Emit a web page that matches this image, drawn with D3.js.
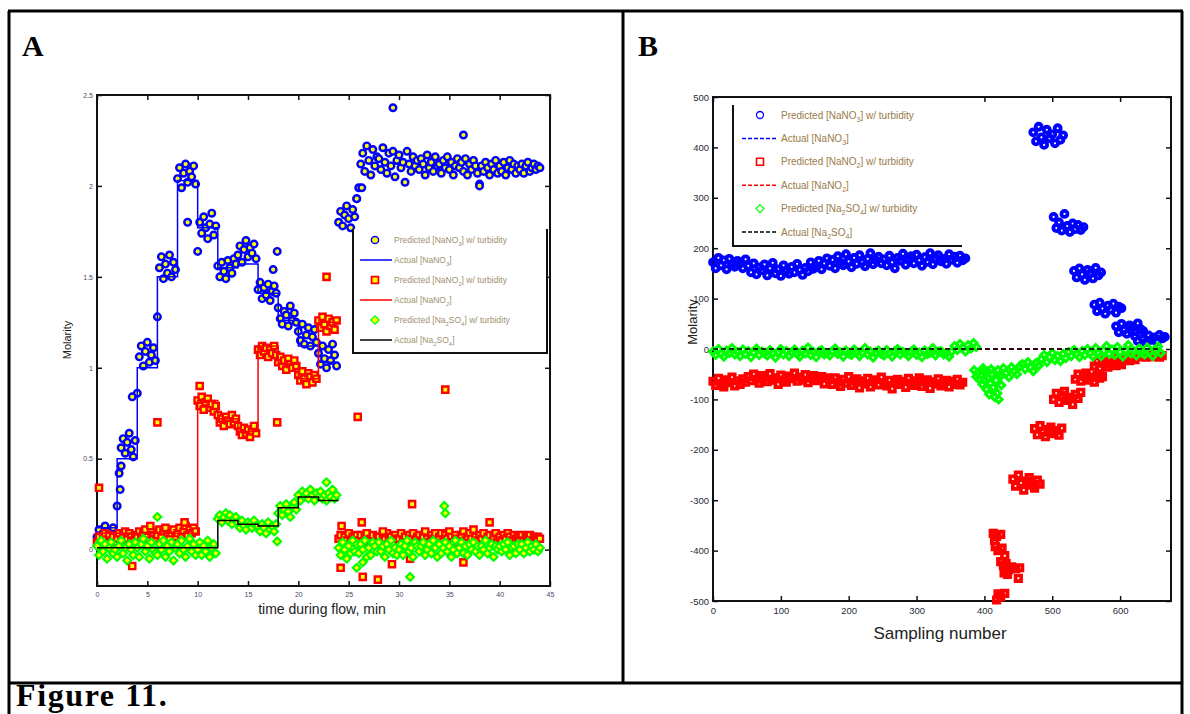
<!DOCTYPE html>
<html>
<head>
<meta charset="utf-8">
<script src="https://cdn.jsdelivr.net/npm/d3@7"></script>
<style>
  body { margin: 0; background: #fff; }
  svg { display: block; }
</style>
</head>
<body>
<svg id="svg"></svg>
<script>
// ---------- panel A data (time in min, molarity) ----------
// predicted values are sampled every 0.2 min from t = 0
const aStep = 0.2;

const aNitratePred = [
    0.07, 0.11, 0.04, 0.09, 0.13, 0.06, 0.10, 0.08, 0.12, 0.05,
    0.24, 0.42, 0.56, 0.61, 0.53, 0.59, 0.64, 0.55, 0.51, 0.60,
    0.86, 1.06, 1.12, 1.01, 1.09, 1.14, 1.03, 1.07, 1.11, 1.04,
    1.28, 1.55, 1.61, 1.49, 1.57, 1.52, 1.62, 1.50, 1.58, 1.54,
    2.04, 2.10, 1.99, 2.07, 2.12, 2.02, 2.08, 2.05, 2.11, 2.01,
    1.64, 1.80, 1.74, 1.83, 1.77, 1.71, 1.79, 1.85, 1.73, 1.78,
    1.56, 1.50, 1.58, 1.53, 1.49, 1.59, 1.55, 1.52, 1.60, 1.57,
    1.62, 1.67, 1.58, 1.65, 1.70, 1.61, 1.66, 1.63, 1.68, 1.60,
    1.43, 1.47, 1.38, 1.44, 1.40, 1.46, 1.37, 1.42, 1.45, 1.41,
    1.33, 1.27, 1.24, 1.31, 1.29, 1.23, 1.34, 1.26, 1.30, 1.25,
    1.20, 1.15, 1.24, 1.13, 1.18, 1.22, 1.12, 1.17, 1.21, 1.14,
    1.08, 1.02, 1.12, 1.05, 1.00, 1.10, 1.04, 1.13, 1.07, 1.01,
    1.80, 1.86, 1.78, 1.84, 1.89, 1.82, 1.77, 1.87, 1.83, 1.93,
    1.99, 2.12, 2.18, 2.08, 2.22, 2.14, 2.06, 2.20, 2.11, 2.16,
    2.15, 2.09, 2.21, 2.13, 2.07, 2.18, 2.11, 2.19, 2.05, 2.14,
    2.17, 2.10, 2.13, 2.02, 2.19, 2.12, 2.08, 2.16, 2.11, 2.14,
    2.09, 2.15, 2.12, 2.06, 2.17, 2.10, 2.13, 2.08, 2.16, 2.11,
    2.12, 2.07, 2.14, 2.10, 2.16, 2.09, 2.13, 2.06, 2.11, 2.15,
    2.10, 2.13, 2.08, 2.15, 2.06, 2.12, 2.09, 2.14, 2.11, 2.07,
    2.01, 2.11, 2.08, 2.13, 2.10, 2.06, 2.12, 2.09, 2.14, 2.07,
    2.11, 2.08, 2.13, 2.06, 2.10, 2.14, 2.09, 2.12, 2.07, 2.11,
    2.09, 2.12, 2.07, 2.11, 2.13, 2.08, 2.10, 2.12, 2.09, 2.11,
    2.10
];
const aNitrateOutliers = [[2.3, 0.33], [2.4, 0.46], [3.5, 0.84], [9.0, 1.80], [17.5, 1.54], [17.9, 1.64],
    [25.8, 1.93], [26.3, 1.99], [29.4, 2.43], [36.4, 2.28], [38.0, 2.00]];

const aNitritePred = [
    0.04, 0.07, 0.02, 0.06, 0.09, 0.03, 0.08, 0.05, 0.07, 0.04,
    0.06, 0.09, 0.05, 0.08, 0.10, 0.06, 0.09, 0.07, 0.05, 0.08,
    0.07, 0.10, 0.06, 0.09, 0.11, 0.07, 0.05, 0.10, 0.08, 0.06,
    0.08, 0.11, 0.07, 0.10, 0.12, 0.08, 0.06, 0.09, 0.11, 0.07,
    0.09, 0.12, 0.07, 0.10, 0.13, 0.08, 0.11, 0.09, 0.12, 0.10,
    0.82, 0.79, 0.84, 0.77, 0.81, 0.83, 0.78, 0.80, 0.76, 0.79,
    0.74, 0.70, 0.72, 0.68, 0.73, 0.71, 0.69, 0.74, 0.70, 0.72,
    0.68, 0.65, 0.63, 0.67, 0.64, 0.66, 0.62, 0.65, 0.68, 0.64,
    1.10, 1.07, 1.12, 1.09, 1.11, 1.06, 1.10, 1.08, 1.12, 1.07,
    1.03, 1.06, 1.01, 1.04, 0.99, 1.05, 1.02, 1.00, 1.04, 1.01,
    0.96, 0.93, 0.98, 0.94, 0.91, 0.97, 0.95, 0.92, 0.96, 0.94,
    1.26, 1.22, 1.28, 1.24, 1.20, 1.27, 1.23, 1.25, 1.21, 1.26,
    0.06, 0.08, 0.03, 0.07, 0.05, 0.09, 0.04, 0.07, 0.06, 0.08,
    0.05, 0.08, 0.04, 0.07, 0.09, 0.05, 0.06, 0.08, 0.03, 0.07,
    0.07, 0.04, 0.08, 0.06, 0.09, 0.05, 0.07, 0.03, 0.08, 0.06,
    0.06, 0.09, 0.05, 0.07, 0.04, 0.08, 0.06, 0.09, 0.05, 0.07,
    0.08, 0.05, 0.07, 0.10, 0.06, 0.04, 0.08, 0.06, 0.09, 0.05,
    0.07, 0.09, 0.05, 0.08, 0.06, 0.10, 0.07, 0.04, 0.08, 0.06,
    0.06, 0.08, 0.10, 0.05, 0.07, 0.09, 0.06, 0.11, 0.07, 0.05,
    0.08, 0.06, 0.09, 0.05, 0.07, 0.08, 0.04, 0.07, 0.09, 0.06,
    0.07, 0.05, 0.08, 0.06, 0.09, 0.07, 0.05, 0.08, 0.06, 0.07,
    0.06, 0.08, 0.05, 0.07, 0.06, 0.08, 0.05, 0.07, 0.06, 0.07,
    0.06
];
const aNitriteOutliers = [[0.2, 0.34], [3.5, -0.09], [5.3, 0.13], [6.0, 0.70], [8.7, 0.15], [10.2, 0.90],
    [17.9, 0.70], [22.8, 1.50], [24.2, -0.10], [24.3, 0.13], [25.9, 0.73], [26.3, 0.15], [26.4, -0.15],
    [27.9, -0.165], [28.4, 0.10], [29.3, -0.08], [31.1, -0.05], [31.3, 0.25], [34.6, 0.88], [36.4, -0.07],
    [39.0, 0.15]];

const aSulfatePred = [
    0.02, -0.03, 0.05, -0.01, 0.03, -0.05, 0.01, 0.04, -0.02, 0.00,
    -0.04, 0.02, 0.05, -0.02, 0.01, -0.06, 0.03, 0.00, -0.03, 0.04,
    0.01, -0.04, 0.03, 0.06, -0.01, 0.02, -0.05, 0.04, 0.00, -0.02,
    -0.03, 0.03, 0.00, 0.05, -0.04, 0.02, -0.01, 0.04, -0.06, 0.01,
    0.03, -0.02, 0.05, 0.00, -0.04, 0.02, 0.06, -0.01, 0.03, -0.03,
    0.00, 0.04, -0.03, 0.02, -0.01, 0.05, -0.04, 0.01, 0.03, -0.02,
    0.17, 0.19, 0.15, 0.18, 0.20, 0.16, 0.19, 0.14, 0.17, 0.18,
    0.15, 0.12, 0.16, 0.13, 0.11, 0.15, 0.14, 0.12, 0.16, 0.13,
    0.13, 0.10, 0.14, 0.12, 0.09, 0.15, 0.11, 0.13, 0.10, 0.14,
    0.20, 0.24, 0.19, 0.22, 0.25, 0.21, 0.18, 0.23, 0.26, 0.22,
    0.30, 0.27, 0.32, 0.29, 0.31, 0.28, 0.33, 0.30, 0.27, 0.31,
    0.29, 0.32, 0.28, 0.30, 0.27, 0.31, 0.29, 0.33, 0.28, 0.30,
    0.01, -0.03, 0.04, 0.00, -0.05, 0.02, -0.02, 0.05, -0.01, 0.03,
    -0.02, 0.03, 0.00, 0.05, -0.04, 0.01, -0.03, 0.04, 0.02, -0.01,
    0.04, -0.01, 0.02, -0.04, 0.03, 0.00, 0.05, -0.02, 0.01, -0.03,
    0.00, 0.03, -0.03, 0.02, 0.05, -0.01, 0.01, -0.04, 0.04, 0.02,
    -0.01, 0.02, 0.04, -0.03, 0.00, 0.03, -0.02, 0.05, 0.01, -0.04,
    0.03, -0.02, 0.01, 0.04, -0.01, 0.02, -0.04, 0.00, 0.05, -0.02,
    0.01, 0.04, -0.02, 0.02, -0.03, 0.03, 0.00, 0.04, -0.01, 0.02,
    -0.03, 0.02, 0.00, 0.05, -0.02, 0.01, 0.03, -0.04, 0.02, 0.00,
    0.02, -0.01, 0.03, 0.00, 0.04, -0.03, 0.01, 0.02, -0.02, 0.03,
    0.00, 0.03, -0.02, 0.01, 0.04, -0.01, 0.02, 0.00, 0.03, -0.01,
    0.01
];
const aSulfateOutliers = [[6.0, 0.18], [17.9, 0.045], [22.8, 0.37], [25.8, -0.10], [26.4, -0.07],
    [31.1, -0.15], [34.5, 0.24], [34.6, 0.20]];

// actual (reference) concentrations, step changes every 2 min
const aNitrateStepTimes = [0, 2, 4, 6, 8, 10, 12, 14, 16, 18, 20, 22, 24];
const aNitrateSteps = [0.12, 0.50, 1.00, 1.50, 2.03, 1.77, 1.55, 1.57, 1.41, 1.26, 1.12, 1.03, 1.03];
const aNitriteStepTimes = [0, 10, 12, 14, 16, 18, 20, 22, 24];
const aNitriteSteps = [0.09, 0.82, 0.72, 0.65, 1.12, 1.02, 0.94, 1.25, 1.25];
const aSulfateStepTimes = [0, 12, 14, 16, 18, 20, 22, 24];
const aSulfateSteps = [0.01, 0.16, 0.14, 0.13, 0.23, 0.29, 0.27, 0.27];

const aXTicks = [0, 5, 10, 15, 20, 25, 30, 35, 40, 45];
const aYTicks = [0, 0.5, 1, 1.5, 2, 2.5];

// ---------- panel B data (sampling number, molarity) ----------
// each cluster starts at a sampling number, then one value every 4 samples
const bStep = 4;

const bNitrateStarts = [0, 472, 502, 532, 562, 594, 622];
const bNitratePred = [
    [172, 160, 181, 166, 176, 158, 179, 168, 163, 175, 170, 160, 178,
     165, 152, 170, 148, 162, 156, 168, 146, 160, 171, 150, 158, 145, 166, 155, 149, 163, 152, 169, 157, 147, 161, 154, 172, 159,
     163, 175, 158, 170, 180, 165, 177, 160, 184, 171, 166, 188, 174, 162, 181, 169, 186, 172, 164, 179, 190, 168, 176, 183, 170,
     178, 166, 185, 172, 160, 181, 175, 189, 167, 179, 184, 170, 187, 176, 165, 182, 173, 190, 168, 180, 186, 174, 179, 169, 188,
     177, 183, 171, 185, 176, 180],
    [430, 412, 441, 420, 405, 435, 418, 426, 408, 438, 415, 424],
    [262, 240, 251, 235, 268, 244, 232, 249, 238, 246, 236, 242],
    [155, 142, 160, 148, 137, 157, 150, 140, 161, 146, 152],
    [88, 75, 92, 80, 70, 86, 78, 90, 72, 84, 81],
    [45, 33, 50, 38, 30, 47, 42, 35, 51, 40, 36],
    [25, 16, 30, 20, 13, 27, 18, 23, 15, 28, 21, 24]
];

const bNitriteStarts = [0, 442, 474, 502, 534, 562, 594, 630];
const bNitritePred = [
    [-64, -72, -58, -69, -75, -61, -67, -56, -73, -63, -70, -59, -66,
     -55, -63, -50, -60, -68, -53, -58, -65, -49, -62, -57, -70, -52, -61, -66, -54, -59, -48, -64, -56, -62, -51, -67, -58,
     -53, -63, -60, -55, -69, -57,
     -61, -70, -57, -66, -74, -60, -68, -55, -72, -64, -59, -77, -63, -69, -58, -75, -65, -61, -71, -56, -67, -73, -62, -79,
     -66, -60, -70, -64, -76, -58, -68, -72, -63, -57, -74, -66, -61, -78, -65, -69, -59, -73, -67, -62, -75, -64, -70, -60,
     -71, -66],
    [-258, -272, -250, -266, -280, -262, -255, -270, -276, -260, -268],
    [-158, -170, -152, -165, -174, -160, -155, -168, -162, -171, -157],
    [-100, -88, -106, -92, -84, -102, -96, -110, -90, -98, -86],
    [-60, -50, -64, -54, -48, -62, -56, -66, -52, -58, -55],
    [-34, -25, -38, -28, -22, -36, -30, -27, -33, -24, -31],
    [-22, -18, -24, -20, -17, -23, -19, -21],
    [-15, -12, -16, -13, -15, -12, -14, -16, -13]
];
const bNitriteScatter = [[413, -366], [415, -380], [418, -372], [424, -368], [416, -392], [420, -400], [426, -395],
    [430, -410], [424, -422], [428, -430], [432, -426], [436, -438], [429, -444], [440, -432], [446, -436],
    [452, -434], [434, -447], [450, -455], [420, -486], [424, -492], [430, -485], [418, -498]];

const bSulfateStarts = [0, 356, 420];
const bSulfatePred = [
    [-5, -12, 0, -9, -15, -3, -8, 2, -11, -6, -14, -1, -10, -4, -16, -7, 1, -12, -5, -9,
     -13, -2, -8, -17, -6, 0, -11, -4, -14, -7, -1, -10, -15, -3, -9, 3, -12, -6, -16, -5,
     -2, -11, -8, -13, -4, 1, -10, -7, -15, -3, -9, -12, -1, -6, -14, -8, 2, -11, -5, -17,
     -7, -3, -10, -13, -2, -8, -15, -4, 0, -11, -6, -9, -14, -5, -1, -12, -7, -16, -3, -10,
     -8, 2, -13, -6, -4, -11, -9, -15, -5],
    [6, -2, 10, 3, -5, 8, 1, 12, 4],
    [-42, -52, -38, -48, -56, -36, -44, -50, -34,
     -30, -40, -26, -36, -44, -28, -33,
     -20, -12, -26, -16, -8, -22, -14, -24, -10, -18,
     -6, -14, -2, -10, -16, -4, -12, 0, -8, -15,
     2, -8, -14, -3, 6, -10, -1, -12, 4, -6, -15, -2, 8, -9, -4, -13, 1, -7, -11, 3, -5, -14, -1, 5, -8]
];
const bSulfateScatter = [[385, -42], [388, -55], [390, -48], [392, -60], [395, -52], [397, -70], [398, -38],
    [399, -45], [401, -63], [403, -80], [404, -44], [405, -58], [407, -90], [409, -68], [410, -40], [411, -50],
    [413, -76], [415, -95], [417, -62], [419, -88], [421, -100], [423, -55], [425, -72]];

// actual concentrations as plotted (all on the zero line)
const bActualSamples = [0, 660];
const bNitrateActual = [0, 0];
const bNitriteActual = [0, 0];
const bSulfateActual = [0, 0];

const bXTicks = [0, 100, 200, 300, 400, 500, 600];
const bYTicks = [-500, -400, -300, -200, -100, 0, 100, 200, 300, 400, 500];

// legend texts, odd parts are subscripts
const legendLabels = [
    ["Predicted [NaNO", "3", "] w/ turbidity"],
    ["Actual [NaNO", "3", "]"],
    ["Predicted [NaNO", "2", "] w/ turbidity"],
    ["Actual [NaNO", "2", "]"],
    ["Predicted [Na", "2", "SO", "4", "] w/ turbidity"],
    ["Actual [Na", "2", "SO", "4", "]"]
];

const width = 1190;
const height = 714;
const BLUE = "#0000ff", RED = "#ff0000", GREEN = "#00ff00", YELLOW = "#ffff00";
const sansFont = "'Liberation Sans', Arial, sans-serif";
const serifFont = "'Liberation Serif', 'Times New Roman', serif";

let svg = d3.select("#svg");

function diamondPath(s) {
    return "M0," + (-s) + "L" + s + ",0L0," + s + "L" + (-s) + ",0Z";
}

function drawMarkers(g, pts, x, y, kind, opts) {
    let sel = g.append("g").selectAll("path").data(pts).join("path")
        .attr("transform", d => "translate(" + x(d[0]) + "," + y(d[1]) + ")")
        .attr("fill", opts.fill)
        .attr("stroke", opts.stroke)
        .attr("stroke-width", opts.sw);
    if (kind == "circle") sel.attr("d", d3.symbol(d3.symbolCircle, Math.PI * opts.size * opts.size)());
    if (kind == "square") sel.attr("d", d3.symbol(d3.symbolSquare, 4 * opts.size * opts.size)());
    if (kind == "diamond") sel.attr("d", diamondPath(opts.size * 1.15));
}

function drawStepLine(g, times, vals, x, y, color, dash) {
    let pts = times.map((t, i) => [t, vals[i]]);
    g.append("path")
        .datum(pts)
        .attr("fill", "none")
        .attr("stroke", color)
        .attr("stroke-width", 1.5)
        .attr("stroke-dasharray", dash || null)
        .attr("d", d3.line().x(d => x(d[0])).y(d => y(d[1])).curve(d3.curveStepAfter));
}

function addLabel(sel, parts, size) {
    parts.forEach((p, i) => {
        let t = sel.append("tspan").text(p);
        if (i % 2 == 1) {
            t.attr("font-size", size * 0.7).attr("dy", size * 0.3);
        } else if (i > 0) {
            t.attr("dy", -size * 0.3);
        }
    });
}

function drawFrame(g, x, y, xTicks, yTicks, tickFont, tickColor) {
    let x0 = x.range()[0], x1 = x.range()[1], y0 = y.range()[0], y1 = y.range()[1];

    let bottom = g.append("g").attr("transform", `translate(0,${y0})`)
        .call(d3.axisBottom(x).tickValues(xTicks).tickSizeInner(-5).tickSizeOuter(0).tickPadding(6).tickFormat(d => d));
    let left = g.append("g").attr("transform", `translate(${x0},0)`)
        .call(d3.axisLeft(y).tickValues(yTicks).tickSizeInner(-5).tickSizeOuter(0).tickPadding(4).tickFormat(d => d));
    g.append("g").attr("transform", `translate(0,${y1})`)
        .call(d3.axisTop(x).tickValues(xTicks).tickSizeInner(-5).tickSizeOuter(0).tickFormat(""));
    g.append("g").attr("transform", `translate(${x1},0)`)
        .call(d3.axisRight(y).tickValues(yTicks).tickSizeInner(-5).tickSizeOuter(0).tickFormat(""));

    g.selectAll(".domain").remove();
    g.selectAll(".tick line").attr("stroke", "#111").attr("stroke-width", 1.5);
    [bottom, left].forEach(a => a.selectAll("text")
        .attr("font-family", sansFont)
        .attr("font-size", tickFont)
        .attr("fill", tickColor));

    g.append("rect")
        .attr("x", x0).attr("y", y1)
        .attr("width", x1 - x0).attr("height", y0 - y1)
        .attr("fill", "none").attr("stroke", "#111").attr("stroke-width", 2);
}

function drawPanelA() {
    let x = d3.scaleLinear().domain([0, 45]).range([97, 550]);
    let y = d3.scaleLinear().domain([-0.2, 2.5]).range([586, 95]);
    let g = svg.append("g").attr("id", "panel-a");

    let axes = g.append("g");
    drawFrame(axes, x, y, aXTicks, aYTicks, 7, "#4a4a66");

    let toPts = vals => vals.map((v, i) => [i * aStep, v]);
    let plot = g.append("g");

    drawMarkers(plot, toPts(aNitratePred).concat(aNitrateOutliers), x, y, "circle",
        { fill: YELLOW, stroke: BLUE, sw: 2.4, size: 3.3 });
    drawStepLine(plot, aNitrateStepTimes, aNitrateSteps, x, y, BLUE);
    drawMarkers(plot, toPts(aNitritePred).concat(aNitriteOutliers), x, y, "square",
        { fill: YELLOW, stroke: RED, sw: 2.4, size: 3.1 });
    drawStepLine(plot, aNitriteStepTimes, aNitriteSteps, x, y, RED);
    drawMarkers(plot, toPts(aSulfatePred).concat(aSulfateOutliers), x, y, "diamond",
        { fill: YELLOW, stroke: GREEN, sw: 2.1, size: 3.4 });
    drawStepLine(plot, aSulfateStepTimes, aSulfateSteps, x, y, "#000");

    // legend
    let lg = g.append("g");
    let lx0 = 353, lx1 = 547, ly0 = 229, ly1 = 353;
    lg.append("rect").attr("x", lx0).attr("y", ly0).attr("width", lx1 - lx0).attr("height", ly1 - ly0).attr("fill", "#fff");
    lg.append("path")
        .attr("d", `M${lx0},${ly0}V${ly1}H${lx1}V${ly0}`)
        .attr("fill", "none").attr("stroke", "#111").attr("stroke-width", 2);

    legendLabels.forEach((lab, i) => {
        let ry = ly0 + 11 + i * 20;
        if (i == 0) drawMarkers(lg, [[0, 0]], v => 375, v => ry, "circle", { fill: YELLOW, stroke: BLUE, sw: 1.5, size: 3.6 });
        if (i == 2) drawMarkers(lg, [[0, 0]], v => 375, v => ry, "square", { fill: YELLOW, stroke: RED, sw: 1.8, size: 3.4 });
        if (i == 4) drawMarkers(lg, [[0, 0]], v => 375, v => ry, "diamond", { fill: YELLOW, stroke: GREEN, sw: 1.3, size: 3.6 });
        if (i % 2 == 1) {
            lg.append("line").attr("x1", 360).attr("x2", 392).attr("y1", ry).attr("y2", ry)
                .attr("stroke", [BLUE, RED, "#000"][(i - 1) / 2]).attr("stroke-width", 1.5);
        }
        let t = lg.append("text").attr("x", 394).attr("y", ry + 3)
            .attr("font-family", sansFont).attr("font-size", 8.5).attr("fill", "#a09070");
        addLabel(t, lab, 8.5);
    });

    g.append("text")
        .attr("transform", "translate(71,340) rotate(-90)")
        .attr("text-anchor", "middle")
        .attr("font-family", sansFont).attr("font-size", 11).attr("fill", "#222")
        .text("Molarity");
    g.append("text")
        .attr("x", 322).attr("y", 614)
        .attr("text-anchor", "middle")
        .attr("font-family", sansFont).attr("font-size", 14).attr("fill", "#222")
        .text("time during flow, min");
}

function drawPanelB() {
    let x = d3.scaleLinear().domain([0, 675]).range([713, 1171]);
    let y = d3.scaleLinear().domain([-500, 500]).range([601, 97]);
    let g = svg.append("g").attr("id", "panel-b");

    let axes = g.append("g");
    drawFrame(axes, x, y, bXTicks, bYTicks, 9.5, "#2a2a3a");

    let toPts = (starts, groups) => groups.flatMap((vals, k) => vals.map((v, i) => [starts[k] + i * bStep, v]));
    let plot = g.append("g");

    drawMarkers(plot, toPts(bNitrateStarts, bNitratePred), x, y, "circle",
        { fill: "none", stroke: BLUE, sw: 3.8, size: 3 });
    drawStepLine(plot, bActualSamples, bNitrateActual, x, y, BLUE, "5,3");
    drawMarkers(plot, toPts(bNitriteStarts, bNitritePred).concat(bNitriteScatter), x, y, "square",
        { fill: "none", stroke: RED, sw: 3.6, size: 2.8 });
    drawStepLine(plot, bActualSamples, bNitriteActual, x, y, RED, "5,3");
    drawMarkers(plot, toPts(bSulfateStarts, bSulfatePred).concat(bSulfateScatter), x, y, "diamond",
        { fill: "none", stroke: GREEN, sw: 3, size: 3 });
    drawStepLine(plot, bActualSamples, bSulfateActual, x, y, "#000", "5,3");

    // legend
    let lg = g.append("g");
    let lx0 = 733, lx1 = 962, ly0 = 98, ly1 = 246;
    lg.append("rect").attr("x", lx0).attr("y", ly0).attr("width", lx1 - lx0).attr("height", ly1 - ly0).attr("fill", "#fff");
    lg.append("path")
        .attr("d", `M${lx0},${ly0 + 7}V${ly1}H${lx1}`)
        .attr("fill", "none").attr("stroke", "#111").attr("stroke-width", 2);

    legendLabels.forEach((lab, i) => {
        let ry = 115 + i * 23.4;
        if (i == 0) drawMarkers(lg, [[0, 0]], v => 760, v => ry, "circle", { fill: "none", stroke: BLUE, sw: 1.3, size: 3.5 });
        if (i == 2) drawMarkers(lg, [[0, 0]], v => 760, v => ry, "square", { fill: "none", stroke: RED, sw: 1.6, size: 3.5 });
        if (i == 4) drawMarkers(lg, [[0, 0]], v => 760, v => ry, "diamond", { fill: "none", stroke: GREEN, sw: 1.2, size: 3.5 });
        if (i % 2 == 1) {
            lg.append("line").attr("x1", 742).attr("x2", 777).attr("y1", ry).attr("y2", ry)
                .attr("stroke", [BLUE, RED, "#000"][(i - 1) / 2]).attr("stroke-width", 1.5)
                .attr("stroke-dasharray", "4,2");
        }
        let t = lg.append("text").attr("x", 781).attr("y", ry + 3.5)
            .attr("font-family", sansFont).attr("font-size", 10).attr("fill", "#9a7b4a");
        addLabel(t, lab, 10);
    });

    g.append("text")
        .attr("transform", "translate(697,322) rotate(-90)")
        .attr("text-anchor", "middle")
        .attr("font-family", sansFont).attr("font-size", 13).attr("fill", "#222")
        .text("Molarity");
    g.append("text")
        .attr("x", 940).attr("y", 639)
        .attr("text-anchor", "middle")
        .attr("font-family", sansFont).attr("font-size", 17).attr("fill", "#222")
        .text("Sampling number");
}

function drawTable() {
    let t = svg.append("g").attr("stroke", "#000").attr("stroke-width", 3).attr("fill", "none");
    t.append("path").attr("d", "M8,11H1183");
    t.append("path").attr("d", "M8,683H1183");
    t.append("path").attr("d", "M9,11V714");
    t.append("path").attr("d", "M1182,11V714");
    t.append("path").attr("d", "M623,11V683");

    svg.append("text").attr("x", 22).attr("y", 56)
        .attr("font-family", serifFont).attr("font-weight", "bold").attr("font-size", 30)
        .text("A");
    svg.append("text").attr("x", 638).attr("y", 56)
        .attr("font-family", serifFont).attr("font-weight", "bold").attr("font-size", 30)
        .text("B");
    svg.append("text").attr("x", 16).attr("y", 706)
        .attr("font-family", serifFont).attr("font-weight", "bold").attr("font-size", 32)
        .attr("letter-spacing", 1.6)
        .text("Figure 11.");
}

function initialise() {
    svg.attr("width", width).attr("height", height);
    svg.selectAll("*").remove();
    drawTable();
    drawPanelA();
    drawPanelB();
}

initialise();
</script>
</body>
</html>
